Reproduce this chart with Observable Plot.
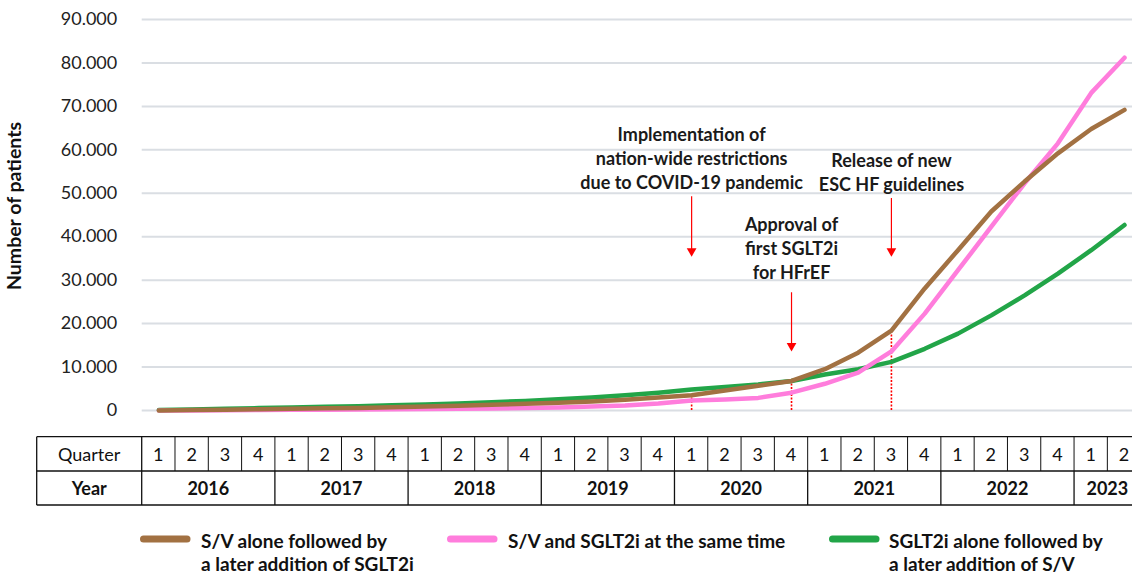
<!DOCTYPE html>
<html><head><meta charset="utf-8">
<script src="https://cdn.jsdelivr.net/npm/d3@7"></script>
<script src="https://cdn.jsdelivr.net/npm/@observablehq/plot@0.6"></script>
<style>
body{margin:0;background:#fff;}
#chart svg{font-family:Lato,"Open Sans",sans-serif;display:block;}
</style>
</head><body><div id="chart"></div>
<script>
// ---- data ----
const quarterLabels = ["1","2","3","4","1","2","3","4","1","2","3","4","1","2","3","4","1","2","3","4","1","2","3","4","1","2","3","4","1","2"];
const yearLabels = ["2016","2017","2018","2019","2020","2021","2022","2023"];
const quartersPerYear = [4,4,4,4,4,4,4,2];
const svAloneThenSglt2i = [0,100,200,300,400,500,600,750,900,1100,1300,1550,1800,2100,2500,3000,3500,4600,5700,6800,9500,13300,18400,28100,36900,45800,52700,59200,64800,69200];
const svAndSglt2iSameTime = [0,0,50,100,150,200,250,300,350,400,450,550,700,900,1150,1600,2300,2550,2900,4100,6150,8700,13600,22300,32300,42300,52300,61500,73100,81200];
const sglt2iAloneThenSv = [100,250,400,550,700,850,1000,1200,1400,1600,1900,2200,2600,3000,3500,4100,4850,5400,6000,6800,8300,9500,11200,14200,17700,21900,26500,31500,36900,42700];
const yTicks = [0,10000,20000,30000,40000,50000,60000,70000,80000,90000];
const seriesNames = ["S/V alone followed by\na later addition of SGLT2i","S/V and SGLT2i at the same time","SGLT2i alone followed by\na later addition of S/V"];
const seriesColors = ["#a27142","#ff7ddc","#22a548"];
const eventQuarter = [16,19,22];
const eventText = ["Implementation of\nnation-wide restrictions\ndue to COVID-19 pandemic","Approval of\nfirst SGLT2i\nfor HFrEF","Release of new\nESC HF guidelines"];
const eventTextY = [58200,37600,55100];
const eventArrowFrom = [49200,27100,48800];
const eventArrowTo = [36100,14300,36100];

// ---- build tables ----
const seriesArrays = [svAloneThenSglt2i, svAndSglt2iSameTime, sglt2iAloneThenSv];
const rows = [];
[2,1,0].forEach(s => seriesArrays[s].forEach((v,i) => rows.push({q:i, v, s})));
const events = eventQuarter.map((q,k) => ({q, text:eventText[k], ty:eventTextY[k], a1:eventArrowFrom[k], a2:eventArrowTo[k], top:svAloneThenSglt2i[q]}));

const fmt = d => d === 0 ? "0" : d3.format(",")(d).replace(/,/g, ".");
const W = 1132, H = 575;

const plot = Plot.plot({
  width: W, height: H,
  marginTop: 19, marginBottom: 165, marginLeft: 141.7, marginRight: 0,
  style: {fontFamily: "Lato, 'Open Sans', sans-serif", background: "#fff", overflow: "visible"},
  x: {domain: [-0.5, 29.24], axis: null},
  y: {domain: [0, 90000], ticks: yTicks, tickFormat: fmt, label: null},
  marks: [
    Plot.ruleY(yTicks, {stroke: "#dadee3", strokeWidth: 2}),
    Plot.axisY(yTicks, {tickSize: 0, tickPadding: 25, fontSize: 18, fill: "#222", tickFormat: fmt, label: null}),
    Plot.ruleX(events, {x: "q", y1: 0, y2: "top", stroke: "#ff0000", strokeWidth: 1.6, strokeDasharray: "2,1.5"}),
    Plot.line(rows, {x: "q", y: "v", z: "s", stroke: d => seriesColors[d.s], strokeWidth: 4.5, strokeLinecap: "round", strokeLinejoin: "round"}),
    Plot.ruleX(events, {x: "q", y1: "a1", y2: "a2", stroke: "#ff0000", strokeWidth: 1.2}),
    Plot.dot(events, {x: "q", y: "a2", symbol: "triangle", r: 3.6, rotate: 180, fill: "#ff0000", stroke: null, dy: -2.5}),
    Plot.text(events, {x: "q", y: "ty", text: "text", fontSize: 18, fontWeight: "bold", fill: "#1a1a1a", lineHeight: 1.33, lineAnchor: "middle", textAnchor: "middle"})
  ]
});

const svg = d3.select(plot);
svg.attr("font-family", "Lato, 'Open Sans', sans-serif");
const xs = v => plot.scale("x").apply(v);

// y-axis title
svg.append("text").attr("transform", "translate(21,206) rotate(-90)")
  .attr("text-anchor", "middle").attr("font-size", 19.5).attr("font-weight", "bold").attr("fill", "#111")
  .text("Number of patients");

// ---- quarter / year table ----
const tLeft = 36.7, tDiv = xs(-0.5), tTop = 436.7, tMid = 471, tBot = 505, tRight = W + 10;
const g = svg.append("g").attr("stroke", "#111").attr("stroke-width", 1.3);
[tTop, tMid, tBot].forEach(yy => g.append("line").attr("x1", tLeft).attr("x2", tRight).attr("y1", yy).attr("y2", yy));
[tLeft, tDiv].forEach(xx => g.append("line").attr("x1", xx).attr("x2", xx).attr("y1", tTop).attr("y2", tBot));
quarterLabels.forEach((q, i) => {
  const xb = xs(i + 0.5);
  g.append("line").attr("x1", xb).attr("x2", xb).attr("y1", tTop).attr("y2", tMid).attr("stroke-width", 1);
});
let start = 0;
const yearSpans = quartersPerYear.map((n, k) => { const s = {label: yearLabels[k], a: start, b: start + n}; start += n; return s; });
yearSpans.forEach(s => {
  const xb = xs(s.b - 0.5);
  g.append("line").attr("x1", xb).attr("x2", xb).attr("y1", tMid).attr("y2", tBot);
});
const tg = svg.append("g").attr("fill", "#111").attr("font-size", 18).attr("text-anchor", "middle").attr("dominant-baseline", "central");
tg.append("text").attr("x", (tLeft + tDiv) / 2).attr("y", (tTop + tMid) / 2).text("Quarter");
tg.append("text").attr("x", (tLeft + tDiv) / 2).attr("y", (tMid + tBot) / 2).attr("font-weight", "bold").text("Year");
quarterLabels.forEach((q, i) => tg.append("text").attr("x", xs(i)).attr("y", (tTop + tMid) / 2).text(q));
yearSpans.forEach(s => tg.append("text").attr("x", xs((s.a + s.b - 1) / 2)).attr("y", (tMid + tBot) / 2).attr("font-weight", "bold").text(s.label));

// ---- legend ----
const legendPos = [{sx: 140, tx: 201}, {sx: 447, tx: 508}, {sx: 829, tx: 889}];
const lg = svg.append("g").attr("text-anchor", "start");
seriesNames.forEach((name, k) => {
  const p = legendPos[k];
  lg.append("line").attr("x1", p.sx + 3.5).attr("x2", p.sx + 47).attr("y1", 539).attr("y2", 539)
    .attr("stroke", seriesColors[k]).attr("stroke-width", 7).attr("stroke-linecap", "round");
  name.split("\n").forEach((line, j) => {
    lg.append("text").attr("x", p.tx).attr("y", 540 + j * 23.5).attr("dominant-baseline", "central")
      .attr("text-anchor", "start")
      .attr("font-size", 19).attr("font-weight", "bold").attr("fill", "#111").text(line);
  });
});

document.getElementById("chart").appendChild(plot);
</script>
</body></html>
